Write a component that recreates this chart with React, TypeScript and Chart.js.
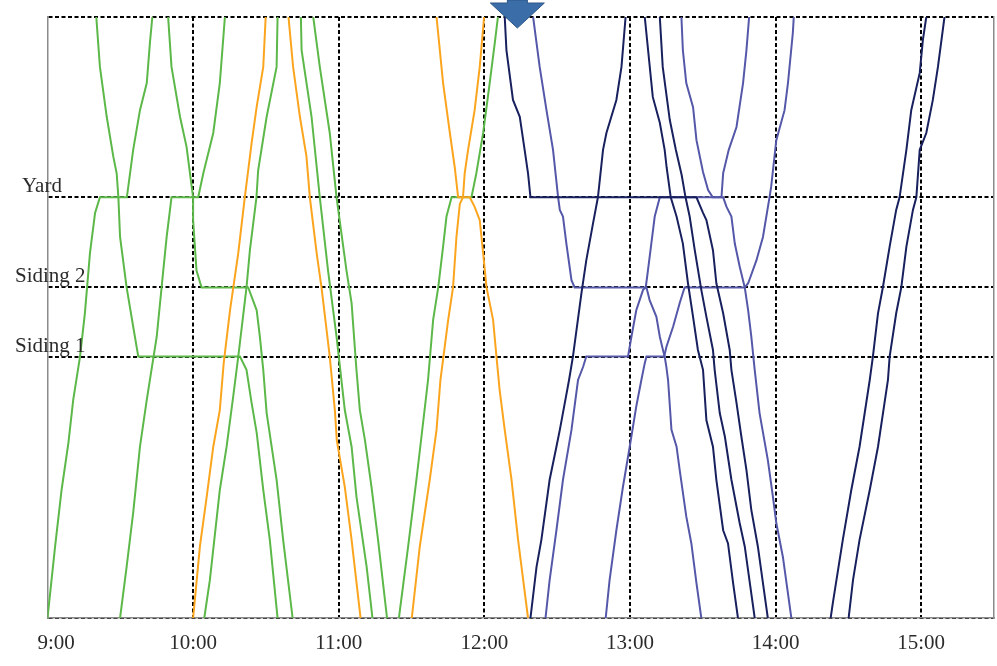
import React, { useEffect, useRef } from "react";
import { Chart, registerables } from "chart.js";

Chart.register(...registerables);

// Time axis: minutes since midnight (540 = 9:00). Distance axis: 0 (bottom) .. 100 (top).
const HOUR_TICKS = [540, 600, 660, 720, 780, 840, 900];
const TIME_MIN = 540;
const TIME_MAX = 930;
const STATION_NAMES = ["Yard", "Siding 2", "Siding 1"];
const STATION_DIST = [70, 55, 43.5];
const LINE_ENDS = [0, 100];
const ARROW_TIME = 733.6;

// Green trains
const G1: [number, number][] = [[540, 0], [543.1, 11.8], [545.8, 21.3], [548.6, 29.1], [550.6, 36.3], [553.4, 43.5], [555.4, 50.7], [557.5, 60.7], [559.6, 67.4], [561.6, 70], [572.7, 70], [575.3, 77.9], [578.1, 84.5], [580.9, 89], [582.2, 95.7], [583.2, 100]];
const G2: [number, number][] = [[560.1, 100], [561.6, 91.7], [564.4, 83.4], [567.1, 76.8], [568.5, 74], [569.2, 70], [569.9, 63.4], [572.6, 55], [575.3, 48.5], [577.4, 43.5], [619.3, 43.5], [622, 41.3], [624.1, 35.8], [626.2, 30.8], [628.9, 21.3], [631.6, 13], [634.8, 0]];
const G3: [number, number][] = [[589.7, 100], [591.1, 91.7], [594.6, 83.4], [597.3, 78.4], [599.4, 71.8], [600, 70], [600, 66.2], [601.4, 57.8], [603.5, 55], [622.7, 55], [626.2, 51.2], [627.5, 46.8], [628.9, 41.3], [630.3, 34.1], [634.4, 23], [637.1, 13], [641, 0]];
const G4: [number, number][] = [[569.9, 0], [572.6, 8.5], [575.3, 17.5], [578.1, 28.5], [580.9, 36.3], [585, 46.8], [587.7, 57.8], [589.1, 63.4], [591.1, 70], [602.1, 70], [604.2, 74], [608.3, 80.7], [611, 89], [613.1, 100]];
const G5: [number, number][] = [[604.6, 0], [606.9, 6.3], [611, 21.3], [613.8, 28.5], [616.5, 36.8], [618.6, 43.5], [622, 55], [623.4, 61.2], [626.1, 70], [626.8, 74.5], [630.3, 83.4], [634.4, 91.7], [634.8, 100]];
const G6: [number, number][] = [[644.4, 100], [644.7, 94.5], [648.8, 83.4], [652.2, 70], [655.6, 57.8], [659.1, 46.8], [662.5, 34.6], [665.3, 28.5], [667.3, 20.2], [671.5, 8.5], [673.9, 0]];
const G7: [number, number][] = [[649.5, 100], [652.2, 91.7], [656.3, 80.7], [659.1, 70], [663.2, 57.8], [665.3, 52.4], [667.3, 41.3], [668.7, 34.6], [670.8, 29.6], [673.5, 21.8], [676.2, 13], [679.9, 0]];
const G8: [number, number][] = [[684.8, 0], [688.6, 11.9], [692, 23], [694.1, 30.2], [696.8, 39.6], [698.9, 49.6], [701, 55], [703, 61.8], [704.4, 66.8], [706.5, 70], [714.7, 70], [716.7, 74], [719.5, 80.7], [722.2, 89], [724.3, 95.7], [725.6, 100]];

// Orange trains
const O1: [number, number][] = [[600, 0], [602.8, 11.9], [605.6, 20.2], [608.3, 28.5], [611, 34.6], [612.6, 42.4], [615.2, 51.2], [618.6, 60.7], [621.3, 70], [624.1, 79], [626.2, 85.1], [628.9, 91.7], [629.9, 100]];
const O2: [number, number][] = [[639.3, 100], [641.2, 91.7], [644, 83.4], [646.7, 76.8], [648.1, 70], [650.9, 60.7], [652.9, 55], [656.3, 43.5], [658.4, 34.6], [659.2, 29.6], [662.5, 21.8], [665.3, 13], [669, 0]];
const O3: [number, number][] = [[690.1, 0], [693.4, 11.9], [697.5, 23], [700.3, 31.3], [701.9, 39.6], [705.1, 49.6], [707.1, 55], [708.5, 63.4], [709.9, 68.9], [711.2, 70], [711.9, 74], [713.3, 77.9], [716, 84.5], [718.1, 91.7], [719.9, 100]];
const O4: [number, number][] = [[700.3, 100], [703, 89], [705.8, 80.7], [707.8, 75], [709.2, 70], [714, 70], [716, 68.4], [718.1, 66.2], [719.5, 60.7], [720.9, 55], [723.6, 49.6], [725, 43.5], [726.3, 37.9], [728.4, 31.3], [731.2, 23], [733.9, 13], [738, 0]];

// Navy trains
const N0: [number, number][] = [[728.4, 100], [729.1, 94.5], [731.8, 86.2], [734.6, 83.4], [736.6, 77.9], [738, 74], [739, 70], [807.4, 70], [810.1, 67.4], [811.5, 66.2], [814.2, 61.2], [815.6, 55.7], [818.4, 50.7], [821.1, 44.6], [821.8, 41.3], [823.9, 35.8], [825.9, 30.2], [828, 24.6], [830, 18], [832.7, 11.9], [834.8, 5.8], [836.8, 0]];
const N1: [number, number][] = [[739, 0], [741.5, 8.5], [743.5, 13], [746.9, 23], [749.7, 28.5], [751.1, 31.3], [754.9, 39.6], [756.5, 43.5], [760, 54], [762, 59.5], [764.8, 65.7], [766.8, 70], [768.9, 77.9], [770.3, 80.7], [774.4, 86.2], [776.5, 91.7], [778.2, 100]];
const N2: [number, number][] = [[786.1, 100], [789.4, 86.7], [792.3, 82.4], [794.3, 77.9], [795.1, 75], [796.8, 70], [799.2, 66.8], [801.8, 62.3], [803.9, 55.7], [806, 50.1], [808, 44.6], [810.1, 41.3], [811.5, 32.9], [814.2, 28.5], [815.6, 23], [818.4, 14.6], [820.4, 12.4], [822.5, 5.8], [824.5, 0]];
const N3: [number, number][] = [[792.3, 100], [793.5, 91.7], [796.4, 82.9], [798.9, 77.9], [801.3, 73.7], [802.9, 70], [804.6, 66.8], [806.7, 61.2], [809.4, 54.6], [811.5, 50.1], [814.2, 44.6], [814.9, 41.3], [817, 34.1], [819.1, 30.2], [821.8, 23], [825.2, 15.8], [827.3, 11.9], [829.4, 5.8], [831.4, 0]];
const N4: [number, number][] = [[862.7, 0], [863.6, 2.5], [867.7, 13], [871.2, 21.3], [874.6, 28.5], [878.8, 39.6], [880.1, 43.5], [882.2, 50.7], [884.2, 55], [887, 61.8], [889.7, 67.9], [891.1, 70], [893.9, 77.9], [895.9, 84.5], [899.4, 90.7], [900.7, 96.2], [902.1, 100]];
const N5: [number, number][] = [[870.1, 0], [871.9, 6.3], [874.6, 13], [878.8, 21.3], [882.2, 28.5], [886.3, 39.6], [887, 43.5], [889.7, 50.7], [891.8, 55], [893.9, 61.8], [896.6, 67.9], [898, 70], [899.4, 77.9], [902.1, 80.7], [904.8, 86.2], [906.9, 91.7], [909.6, 100]];

// Purple trains
const P1: [number, number][] = [[740.1, 100], [742.8, 91.7], [745.6, 84.5], [748.3, 77.9], [750.4, 70], [751.1, 67.9], [752.4, 66.8], [753.8, 62.3], [755.9, 56.2], [757.2, 55], [786.8, 55], [788.1, 52.9], [790.9, 50.1], [792.3, 46.8], [793.6, 44.6], [794.3, 43.5], [795, 41.8], [795.7, 39.6], [797.1, 31.3], [799.2, 28.5], [800.5, 24.6], [803.2, 16.9], [805.3, 12.4], [807.4, 5.8], [809.4, 0]];
const P2: [number, number][] = [[745.2, 0], [746.9, 6.3], [749.7, 14.6], [752.4, 23], [755.9, 31.3], [758.6, 39.6], [760.7, 41.8], [762, 43.5], [779.2, 43.5], [780.6, 46.8], [782.6, 51.2], [785.4, 54.6], [786.5, 55], [787.4, 57.8], [788.8, 62.3], [790.2, 66.8], [792.3, 70], [817.7, 70], [818.4, 74], [820.7, 77.9], [823.9, 81.7], [826.6, 89], [828, 94.5], [829.1, 100]];
const P3: [number, number][] = [[801.2, 100], [801.8, 94.5], [803.2, 89], [806, 85], [807.4, 79.5], [810.1, 74.2], [812.2, 71.2], [814.1, 70], [818.4, 70], [819.8, 68.4], [821.8, 66.8], [823.2, 62.3], [825.2, 58.5], [827.3, 55], [828.7, 51.2], [830, 46.8], [831.4, 41.3], [833.4, 34.1], [836.8, 26.3], [838.9, 20.2], [840.3, 15.8], [843, 10.2], [846.5, 0]];
const P4: [number, number][] = [[770, 0], [771.6, 6.3], [774.4, 14.6], [777.1, 21.8], [779.9, 28.5], [782.6, 35.2], [784.7, 39.6], [786.1, 42.4], [786.8, 43.5], [794.1, 43.5], [795, 45.1], [797.8, 48.5], [800.5, 52.4], [802.5, 55], [827.3, 55], [828.7, 55.7], [832.1, 59.5], [834.8, 63.4], [837.5, 70], [838.2, 71.8], [840.3, 79.5], [843.7, 84.5], [845.1, 89], [847.1, 97.3], [847.5, 100]];

const GREEN_TRAINS = [G1, G2, G3, G4, G5, G6, G7, G8];
const ORANGE_TRAINS = [O1, O2, O3, O4];
const PURPLE_TRAINS = [P1, P2, P3, P4];
const NAVY_TRAINS = [N0, N1, N2, N3, N4, N5];

const COLOR_GREEN = "#5cb848";
const COLOR_ORANGE = "#fba51e";
const COLOR_PURPLE = "#5558a8";
const COLOR_NAVY = "#18205e";
const TEXT_COLOR = "#2b2b2b";
const FONT = "21px 'Liberation Serif', 'Times New Roman', serif";
const STATION_LABEL_LEFT: Record<string, number> = { Yard: 22 };
const STATION_LABEL_DEFAULT_LEFT = 15;
const GRID_DASH = [4, 2.5];

function fmtTime(v: number): string {
  const h = Math.floor(v / 60);
  const m = Math.round(v - h * 60);
  return `${h}:${String(m).padStart(2, "0")}`;
}

function mkDataset(pts: [number, number][], color: string, order: number) {
  return {
    data: pts.map(([x, y]) => ({ x, y })),
    borderColor: color,
    backgroundColor: color,
    borderWidth: 2,
    pointRadius: 0,
    pointHoverRadius: 0,
    fill: false,
    tension: 0,
    order,
  };
}

const overlayPlugin = {
  id: "overlay",
  afterDraw(chart: any) {
    const { ctx, chartArea, scales } = chart;
    const x = scales.x;
    const y = scales.y;
    ctx.save();
    ctx.font = FONT;
    ctx.fillStyle = TEXT_COLOR;
    ctx.textBaseline = "alphabetic";
    // hour labels
    HOUR_TICKS.forEach((t, i) => {
      const px = x.getPixelForValue(t);
      if (i === 0) {
        ctx.textAlign = "left";
        ctx.fillText(fmtTime(t), px - 10, chartArea.bottom + 31);
      } else {
        ctx.textAlign = "center";
        ctx.fillText(fmtTime(t), px, chartArea.bottom + 31);
      }
    });
    // station labels
    ctx.textAlign = "left";
    STATION_NAMES.forEach((name, i) => {
      const py = y.getPixelForValue(STATION_DIST[i]);
      const lx = STATION_LABEL_LEFT[name] ?? STATION_LABEL_DEFAULT_LEFT;
      ctx.fillText(name, lx, py - 5);
    });
    // arrow marker
    const ax = x.getPixelForValue(ARROW_TIME);
    ctx.beginPath();
    ctx.moveTo(ax - 10, 0);
    ctx.lineTo(ax + 10, 0);
    ctx.lineTo(ax + 10, 3);
    ctx.lineTo(ax + 27, 3);
    ctx.lineTo(ax, 28);
    ctx.lineTo(ax - 27, 3);
    ctx.lineTo(ax - 10, 3);
    ctx.closePath();
    ctx.fillStyle = "#3b6ea8";
    ctx.fill();
    ctx.strokeStyle = "#2c5687";
    ctx.lineWidth = 1;
    ctx.stroke();
    ctx.restore();
  },
};

export default function App() {
  const canvasRef = useRef<HTMLCanvasElement | null>(null);

  useEffect(() => {
    const canvas = canvasRef.current;
    if (!canvas) return;
    const datasets = [
      ...GREEN_TRAINS.map((p) => mkDataset(p, COLOR_GREEN, 4)),
      ...ORANGE_TRAINS.map((p) => mkDataset(p, COLOR_ORANGE, 3)),
      ...PURPLE_TRAINS.map((p) => mkDataset(p, COLOR_PURPLE, 2)),
      ...NAVY_TRAINS.map((p) => mkDataset(p, COLOR_NAVY, 1)),
    ];
    const chart = new Chart(canvas, {
      type: "line",
      data: { datasets },
      options: {
        animation: false,
        responsive: false,
        maintainAspectRatio: false,
        devicePixelRatio: 1,
        layout: { padding: { left: 47.5, right: 3, top: 17, bottom: 48 } },
        plugins: { legend: { display: false }, tooltip: { enabled: false } },
        events: [],
        scales: {
          x: {
            type: "linear",
            min: TIME_MIN,
            max: TIME_MAX,
            afterBuildTicks: (s: any) => {
              s.ticks = HOUR_TICKS.map((v) => ({ value: v }));
            },
            ticks: { display: false },
            grid: {
              color: (c: any) => (c.tick && c.tick.value === TIME_MIN ? "rgba(0,0,0,0)" : "#000"),
              lineWidth: 2,
              drawTicks: false,
            },
            border: { display: true, color: "#8a8a8a", width: 1.5, dash: GRID_DASH },
          },
          y: {
            type: "linear",
            min: 0,
            max: 100,
            afterBuildTicks: (s: any) => {
              s.ticks = [...LINE_ENDS, ...STATION_DIST].sort((a, b) => a - b).map((v) => ({ value: v }));
            },
            ticks: { display: false },
            grid: { color: "#000", lineWidth: 2, drawTicks: false },
            border: { display: true, color: "#8a8a8a", width: 1.5, dash: GRID_DASH },
          },
          yRight: {
            type: "linear",
            position: "right",
            min: 0,
            max: 100,
            ticks: { display: false },
            grid: { display: false, drawTicks: false },
            border: { display: true, color: "#8a8a8a", width: 1.5 },
          },
        },
      } as any,
      plugins: [overlayPlugin],
    });
    return () => chart.destroy();
  }, []);

  return (
    <div style={{ position: "fixed", left: 0, top: 0, width: 997, height: 666, background: "#fff" }}>
      <canvas ref={canvasRef} width={997} height={666} style={{ display: "block" }} />
    </div>
  );
}
